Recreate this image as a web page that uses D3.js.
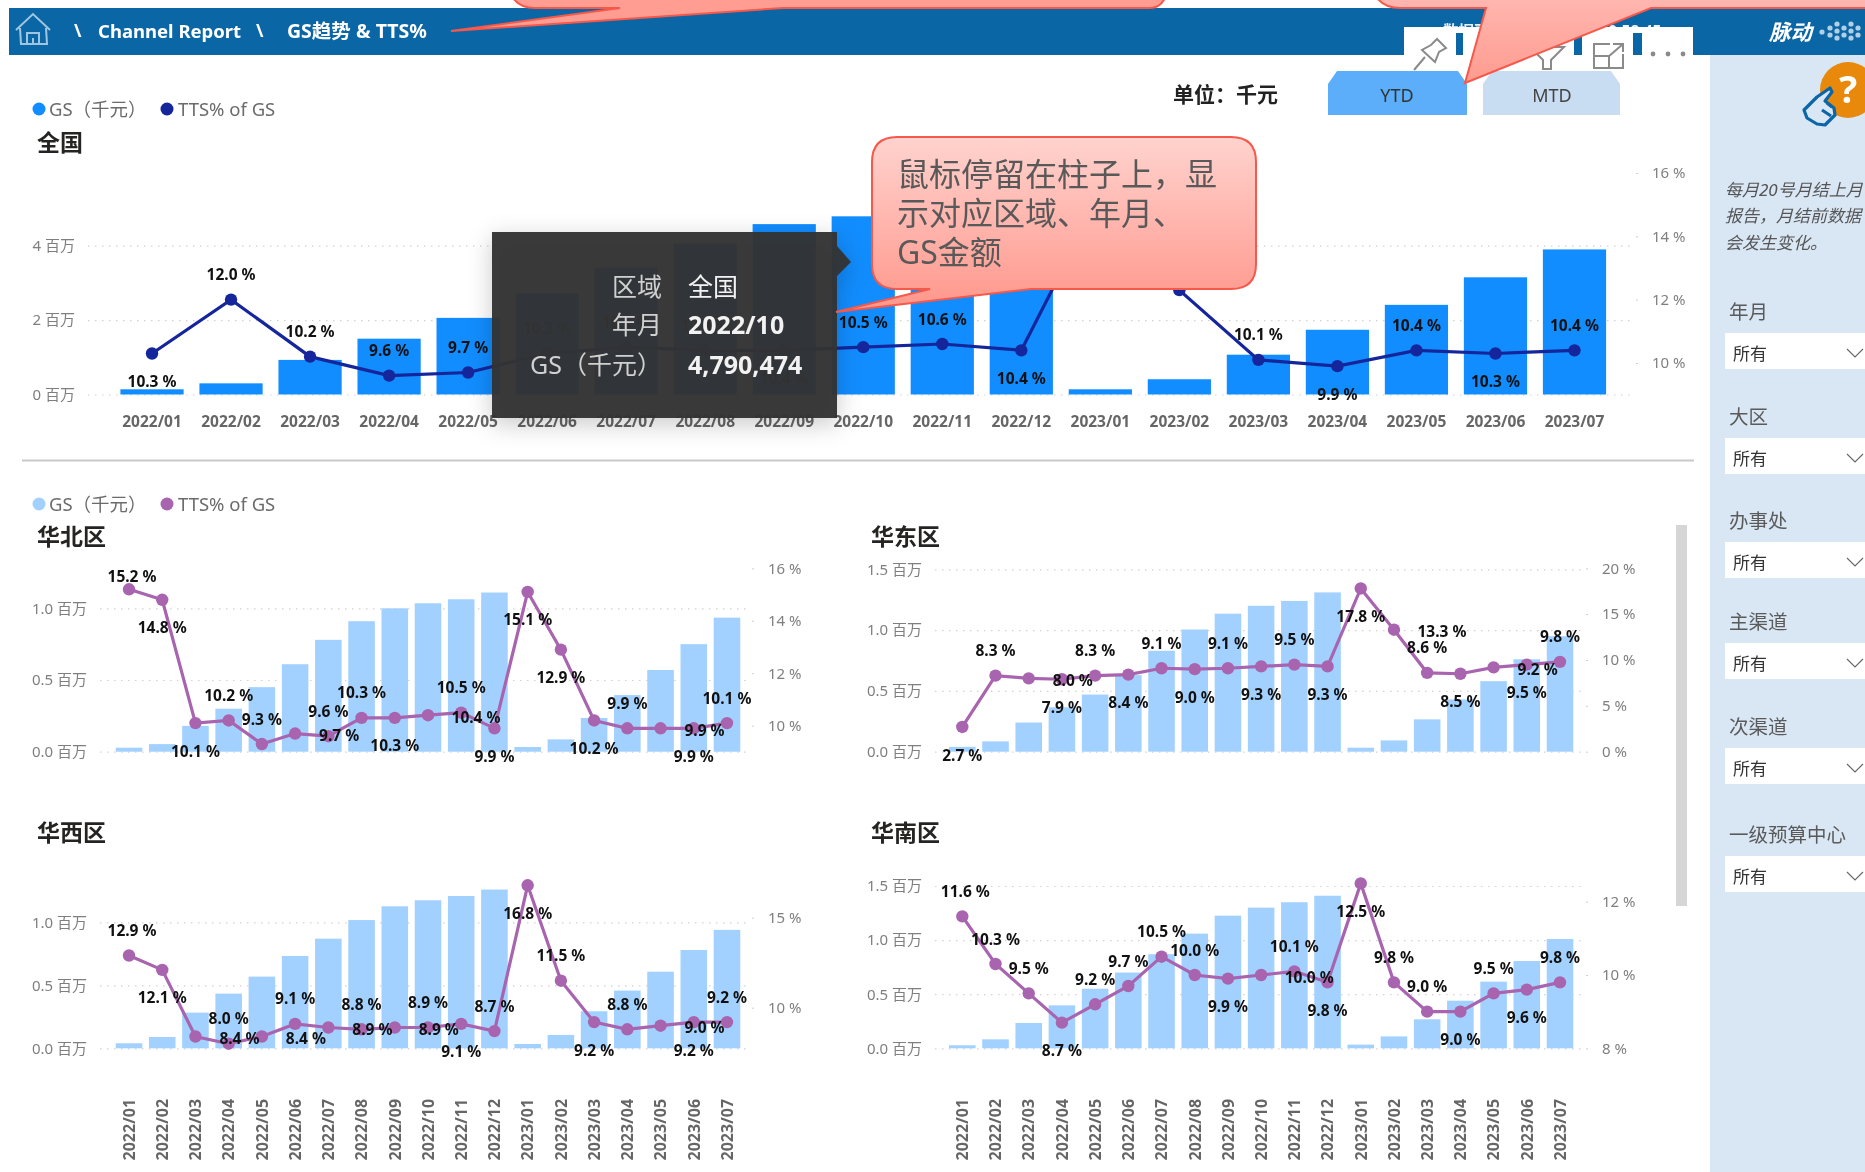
<!DOCTYPE html>
<html>
<head>
<meta charset="utf-8">
<title>GS趋势 & TTS%</title>
<script src="https://cdnjs.cloudflare.com/ajax/libs/d3/7.8.5/d3.min.js"></script>
<style>
    html, body { margin: 0; padding: 0; background: #fff; overflow: hidden; }
    svg { display: block; filter: blur(0.4px); }
    text { font-family: "Noto Sans", "Noto Sans CJK SC", sans-serif; }
    .domain { display: none; }
</style>
</head>
<body>
<svg id="chart" width="1865" height="1172"></svg>
<script>
// months shared by all five charts
const months = ["2022/01","2022/02","2022/03","2022/04","2022/05","2022/06","2022/07","2022/08","2022/09","2022/10","2022/11","2022/12","2023/01","2023/02","2023/03","2023/04","2023/05","2023/06","2023/07"];

// GS in millions. 2022/11 and 2022/12 are hidden by the callout in the source
const gsNational = [0.14,0.30,0.93,1.50,2.06,2.72,3.41,4.06,4.58,4.79,5.05,5.30,0.14,0.41,1.07,1.74,2.41,3.15,3.90];
const gsNorth = [0.028,0.053,0.18,0.30,0.45,0.61,0.78,0.91,1.00,1.035,1.063,1.11,0.033,0.086,0.235,0.395,0.57,0.75,0.935];
const gsEast = [0.04,0.085,0.24,0.365,0.47,0.63,0.83,1.005,1.135,1.20,1.24,1.31,0.033,0.093,0.266,0.43,0.58,0.76,0.95];
const gsWest = [0.04,0.09,0.283,0.434,0.569,0.733,0.87,1.018,1.127,1.175,1.209,1.26,0.034,0.106,0.294,0.458,0.608,0.78,0.94];
const gsSouth = [0.028,0.083,0.234,0.397,0.551,0.70,0.87,1.06,1.226,1.30,1.35,1.41,0.034,0.11,0.268,0.44,0.616,0.807,1.01];

// TTS% of GS, from the data labels
const ttsNational = [10.3,12.0,10.2,9.6,9.7,10.3,10.5,10.4,10.4,10.5,10.6,10.4,15.3,12.3,10.1,9.9,10.4,10.3,10.4];
const ttsNorth = [15.2,14.8,10.1,10.2,9.3,9.7,9.6,10.3,10.3,10.4,10.5,9.9,15.1,12.9,10.2,9.9,9.9,9.9,10.1];
const ttsEast = [2.7,8.3,8.0,7.9,8.3,8.4,9.1,9.0,9.1,9.3,9.5,9.3,17.8,13.3,8.6,8.5,9.2,9.5,9.8];
const ttsWest = [12.9,12.1,8.4,8.0,8.4,9.1,8.9,8.8,8.9,8.9,9.1,8.7,16.8,11.5,9.2,8.8,9.0,9.2,9.2];
const ttsSouth = [11.6,10.3,9.5,8.7,9.2,9.7,10.5,10.0,9.9,10.0,10.1,9.8,12.5,9.8,9.0,9.0,9.5,9.6,9.8];

// where each data label sits relative to its point: a = above, n = just above, b = below, s = to the side
const placeNational = "naaaaaaabaabaaababa".split("");
placeNational[0] = "b";
const placeNorth = "nbbaasaabsabbbbasba".split("");
const placeEast = "basbababababbsabsba".split("");
const placeWest = "absasasasabababasba".split("");
const placeSouth = "aaabaaaabsabbaababa".split("");

const filterNames = ["年月","大区","办事处","主渠道","次渠道","一级预算中心"];
const filterTops = [333,438,542,643,748,856];

const colors = {
    header: "#0b66a5", side: "#d9e6f4",
    bar: "#118dff", line: "#15259b",
    barLight: "#a3d1ff", lineLight: "#a864ae",
    axis: "#7f7f7f", label: "#111", title: "#252423"
};

const svg = d3.select("#chart");
const defs = svg.append("defs");

function gradient(id, top, bottom, y1, y2) {
    const g = defs.append("linearGradient").attr("id", id)
        .attr("gradientUnits", "userSpaceOnUse")
        .attr("x1", 0).attr("x2", 0).attr("y1", y1).attr("y2", y2);
    g.append("stop").attr("offset", "0%").attr("stop-color", top);
    g.append("stop").attr("offset", "100%").attr("stop-color", bottom);
}
gradient("callout", "#ffd3ce", "#ff9a8f", 137, 300);
gradient("callout-top", "#ffb6af", "#ff9b8f", 0, 83);

const shadow = defs.append("filter").attr("id", "tip-shadow")
    .attr("x", "-20%").attr("y", "-20%").attr("width", "140%").attr("height", "140%");
shadow.append("feDropShadow").attr("dx", 0).attr("dy", 6).attr("stdDeviation", 12)
    .attr("flood-color", "#000").attr("flood-opacity", 0.22);

function addText(parent, x, y, str, size, fill, weight, anchor) {
    return parent.append("text")
        .attr("x", x).attr("y", y)
        .attr("dy", "0.36em")
        .attr("font-size", size)
        .attr("font-weight", weight || "normal")
        .attr("fill", fill)
        .attr("text-anchor", anchor || "start")
        .text(str);
}

function drawLegend(g, y, barColor, lineColor) {
    g.append("circle").attr("cx", 39).attr("cy", y).attr("r", 6.5).attr("fill", barColor);
    addText(g, 49, y, "GS（千元）", 18.5, "#6b6b6b");
    g.append("circle").attr("cx", 167).attr("cy", y).attr("r", 6.5).attr("fill", lineColor);
    addText(g, 178, y, "TTS% of GS", 18.5, "#6b6b6b");
}

function drawChart(o) {
    const g = svg.append("g");
    addText(g, o.titleX, o.titleY, o.title, 23, o.titleColor || colors.title, "bold");

    const x = d3.scaleBand().domain(months).range(o.xRange).paddingInner(0.2).paddingOuter(0.1);
    const yLeft = d3.scaleLinear().domain(d3.extent(o.leftTicks)).range(o.leftRange);
    const yRight = d3.scaleLinear().domain(d3.extent(o.rightTicks)).range(o.rightRange);
    const cx = d => x(d) + x.bandwidth() / 2;

    // left axis doubles as the dotted gridlines
    const leftAxis = d3.axisLeft(yLeft)
        .tickValues(o.leftTicks)
        .tickSize(-(o.gridX[1] - o.gridX[0]))
        .tickPadding(13)
        .tickFormat(o.leftFormat);
    const la = g.append("g").attr("transform", `translate(${o.gridX[0]},0)`).call(leftAxis);
    la.selectAll("line").attr("stroke", "#d2d2d2").attr("stroke-width", 1.2).attr("stroke-dasharray", "1.5 5.5");
    la.selectAll("text").attr("font-size", 15).attr("fill", colors.axis);

    const rightAxis = d3.axisRight(yRight)
        .tickValues(o.rightTicks)
        .tickSize(2)
        .tickPadding(14)
        .tickFormat(d => `${d} %`);
    const ra = g.append("g").attr("transform", `translate(${o.gridX[1] + o.rightGap},0)`).call(rightAxis);
    ra.selectAll("line").attr("stroke", "#cfcfcf");
    ra.selectAll("text").attr("font-size", 15).attr("fill", colors.axis);

    g.append("g").selectAll("rect")
        .data(months)
        .join("rect")
        .attr("x", d => x(d))
        .attr("width", x.bandwidth())
        .attr("y", (d, i) => yLeft(o.gs[i]))
        .attr("height", (d, i) => yLeft(0) - yLeft(o.gs[i]))
        .attr("fill", o.barColor);

    const line = d3.line()
        .x(d => cx(d))
        .y((d, i) => yRight(o.tts[i]));
    g.append("path")
        .attr("d", line(months))
        .attr("fill", "none")
        .attr("stroke", o.lineColor)
        .attr("stroke-width", 3.2);
    g.append("g").selectAll("circle")
        .data(months)
        .join("circle")
        .attr("cx", d => cx(d))
        .attr("cy", (d, i) => yRight(o.tts[i]))
        .attr("r", 6.2)
        .attr("fill", o.lineColor);

    // data labels
    g.append("g").selectAll("text")
        .data(months)
        .join("text")
        .attr("x", (d, i) => {
            const side = o.place[i] === "s" ? (o.tts[i] >= 10 ? 48 : 44) : 0;
            return cx(d) + side + (i === 0 && o.place[i] !== "b" ? 3 : 0);
        })
        .attr("y", (d, i) => yRight(o.tts[i]) + ({ a: -25, n: -13, b: 28, s: 2 })[o.place[i]])
        .attr("dy", "0.36em")
        .attr("text-anchor", "middle")
        .attr("font-size", 15.5)
        .attr("font-weight", "bold")
        .attr("fill", colors.label)
        .text((d, i) => `${o.tts[i].toFixed(1)} %`);

    if (o.xLabels === "flat") {
        const ax = d3.axisBottom(x).tickSize(0).tickPadding(0);
        const xa = g.append("g").attr("transform", `translate(0,${yLeft(0) + 21})`).call(ax);
        xa.selectAll("text").attr("font-size", 15.5).attr("font-weight", "bold").attr("fill", "#666");
    } else if (o.xLabels === "rotated") {
        const ax = d3.axisBottom(x).tickSize(0).tickPadding(0);
        const xa = g.append("g").attr("transform", `translate(0,${yLeft(0) + 49})`).call(ax);
        xa.selectAll("text")
            .attr("font-size", 16)
            .attr("font-weight", "bold")
            .attr("fill", "#666")
            .attr("transform", "rotate(-90)")
            .attr("text-anchor", "end")
            .attr("x", -0)
            .attr("y", 0)
            .attr("dx", "-0.1em")
            .attr("dy", "0.36em");
    }
}

// ---------- page background ----------
svg.append("rect").attr("x", 1710).attr("y", 55).attr("width", 155).attr("height", 1117).attr("fill", colors.side);
svg.append("rect").attr("x", 9).attr("y", 8).attr("width", 1856).attr("height", 47).attr("fill", colors.header);

// ---------- charts ----------
drawLegend(svg, 109, colors.bar, colors.line);
drawChart({
    title: "全国", titleX: 37, titleY: 143,
    gs: gsNational, tts: ttsNational, place: placeNational,
    barColor: colors.bar, lineColor: colors.line,
    xRange: [112.5, 1614], gridX: [88, 1631], rightGap: 5,
    leftTicks: [0, 2, 4], leftRange: [394.5, 245.7], leftFormat: d => `${d} 百万`,
    rightTicks: [10, 12, 14, 16], rightRange: [363, 173],
    xLabels: "flat"
});

svg.append("line").attr("x1", 22).attr("x2", 1694).attr("y1", 460.5).attr("y2", 460.5)
    .attr("stroke", "#c9c9c9").attr("stroke-width", 2);
drawLegend(svg, 504, colors.barLight, colors.lineLight);

const lightFormat = d => `${d.toFixed(1)} 百万`;
const panelCommon = { barColor: colors.barLight, lineColor: colors.lineLight, leftFormat: lightFormat };
drawChart({
    ...panelCommon, title: "华北区", titleX: 37, titleY: 537,
    gs: gsNorth, tts: ttsNorth, place: placeNorth,
    xRange: [112.4, 743.6], gridX: [100, 746], rightGap: 6,
    leftTicks: [0, 0.5, 1], leftRange: [751.7, 608.3],
    rightTicks: [10, 12, 14, 16], rightRange: [725.7, 568.3]
});
drawChart({
    ...panelCommon, title: "华东区", titleX: 871, titleY: 537,
    gs: gsEast, tts: ttsEast, place: placeEast,
    xRange: [945.7, 1576.6], gridX: [935, 1586], rightGap: 0,
    leftTicks: [0, 0.5, 1, 1.5], leftRange: [751.7, 569.3],
    rightTicks: [0, 5, 10, 15, 20], rightRange: [751.7, 568.3]
});
drawChart({
    ...panelCommon, title: "华西区", titleX: 37, titleY: 833,
    gs: gsWest, tts: ttsWest, place: placeWest,
    xRange: [112.4, 743.6], gridX: [100, 746], rightGap: 6,
    leftTicks: [0, 0.5, 1], leftRange: [1048.3, 922.3],
    rightTicks: [10, 15], rightRange: [1007.7, 917.7],
    xLabels: "rotated"
});
drawChart({
    ...panelCommon, title: "华南区", titleX: 871, titleY: 833,
    gs: gsSouth, tts: ttsSouth, place: placeSouth,
    xRange: [945.7, 1576.6], gridX: [935, 1586], rightGap: 0,
    leftTicks: [0, 0.5, 1, 1.5], leftRange: [1048.3, 886],
    rightTicks: [8, 10, 12], rightRange: [1048.3, 901.7],
    xLabels: "rotated"
});

// scrollbar
svg.append("rect").attr("x", 1676).attr("y", 525).attr("width", 11).attr("height", 381).attr("fill", "#d6d6d6");

// ---------- header ----------
const header = svg.append("g");
const home = header.append("g").attr("fill", "none").attr("stroke", "#9fc6e0").attr("stroke-width", 2);
home.append("path").attr("d", "M16,30 L33,14 L50,30 M20,28 L21,44 L47,44 L46,28");
home.append("path").attr("d", "M27,44 V33 H39 V44 M33,44 V38");
addText(header, 74, 31, "\\", 18, "#fff", "bold");
addText(header, 98, 31, "Channel Report", 18.5, "#fff", "bold");
addText(header, 256, 31, "\\", 18, "#fff", "bold");
addText(header, 287, 31, "GS趋势 & TTS%", 19.5, "#fff", "bold");
addText(header, 1443, 31, "数据更新：2023/7/18 10:58:45", 15.5, "#eaf3fa", "bold");
addText(header, 1769, 32, "脉动", 21.5, "#fff", "bold").attr("font-style", "italic");
const logoDots = [[1822,32],[1830,28],[1830,35],[1837,24],[1837,31],[1837,38],[1844,28],[1844,35],[1851,24],[1851,31],[1851,38],[1858,28],[1858,35]];
header.append("g").selectAll("circle").data(logoDots).join("circle")
    .attr("cx", d => d[0]).attr("cy", d => d[1]).attr("r", 2.6).attr("fill", "#cfe2f0").attr("opacity", 0.85);

// pinned-visual toolbar laid over the header
const toolbar = svg.append("g");
toolbar.append("rect").attr("x", 1404).attr("y", 27).attr("width", 289).attr("height", 28).attr("fill", "#fff");
[[1456,7],[1574,8],[1633,9]].forEach(d => {
    toolbar.append("rect").attr("x", d[0]).attr("y", 33).attr("width", d[1]).attr("height", 22).attr("fill", colors.header);
});
const tools = toolbar.append("g").attr("fill", "none").attr("stroke", "#8a8a8a").attr("stroke-width", 2);
tools.append("path").attr("d", "M1437,39 L1446,48 L1439,52 L1435,62 L1422,50 L1431,45 Z M1425,57 L1414,70");
tools.append("path").attr("d", "M1530,47 H1564 L1551,60 V69 H1543 V60 Z");
tools.append("path").attr("d", "M1610,44 H1594 V68 H1623 V54 M1594,56 H1609 V68 M1608,57 L1623,44 M1613,44 H1623 V52");
toolbar.selectAll("circle.dot").data([1653,1668,1683]).join("circle").attr("class", "dot")
    .attr("cx", d => d).attr("cy", 54).attr("r", 2.4).attr("fill", "#8a8a8a");

// ---------- YTD / MTD ----------
function tabPath(x0, x1) {
    return `M${x0},115 V84 L${x0 + 9},71 H${x1 - 9} L${x1},84 V115 Z`;
}
svg.append("path").attr("d", tabPath(1328, 1467)).attr("fill", "#5cadfa");
svg.append("path").attr("d", tabPath(1483, 1620)).attr("fill", "#c8dcf2");
addText(svg, 1397, 96, "YTD", 18, "#333", "normal", "middle");
addText(svg, 1552, 96, "MTD", 18, "#444", "normal", "middle");
addText(svg, 1173, 94, "单位：千元", 21, "#222", "bold");

// ---------- side panel ----------
const side = svg.append("g");
side.append("circle").attr("cx", 1848).attr("cy", 90).attr("r", 28).attr("fill", "#e8890c");
addText(side, 1848, 89, "?", 38, "#fff", "bold", "middle");
const hand = side.append("g").attr("fill", colors.side).attr("stroke", colors.header).attr("stroke-width", 3.2).attr("stroke-linejoin", "round");
hand.append("path").attr("d", "M1804,110 L1817,97 L1830,88 L1832,92 L1825,101 L1834,108 L1835,115 L1825,125 L1817,124 L1807,118 Z");
hand.append("path").attr("d", "M1827,103 L1832,107 M1822,110 L1831,116").attr("fill", "none");

[["每月20号月结上月", 190], ["报告，月结前数据", 216], ["会发生变化。", 243]].forEach(d => {
    addText(side, 1725, d[1], d[0], 17, "#555").attr("font-style", "italic");
});
filterNames.forEach((name, i) => {
    const top = filterTops[i];
    addText(side, 1729, top - 21, name, 19.5, "#5a5a5a");
    side.append("rect").attr("x", 1725).attr("y", top).attr("width", 140).attr("height", 36).attr("fill", "#fff");
    addText(side, 1733, top + 21, "所有", 17, "#333");
    side.append("path").attr("d", `M1847,${top + 16} L1855,${top + 24} L1863,${top + 16}`)
        .attr("fill", "none").attr("stroke", "#666").attr("stroke-width", 1.1);
});

// ---------- hover tooltip ----------
const tip = svg.append("g");
tip.append("path")
    .attr("d", "M492,232 H837 V246 L851,262 L837,276 V418 H492 Z")
    .attr("fill", "rgba(50,50,50,0.96)")
    .attr("filter", "url(#tip-shadow)");
[["区域", "全国", 287], ["年月", "2022/10", 325], ["GS（千元）", "4,790,474", 365]].forEach(d => {
    addText(tip, 662, d[2], d[0], 25, "#d0d0d0", "normal", "end");
    addText(tip, 688, d[2], d[1], 25, "#f2f2f2", d[1] === "全国" ? "normal" : "bold");
});

// ---------- red callouts ----------
const callouts = svg.append("g").attr("stroke", "#f6584a").attr("stroke-width", 2).attr("stroke-linejoin", "miter");
callouts.append("path")
    .attr("d", "M513,-2 Q520,8 535,8 H620 L451,31 L783,8 H1150 Q1160,8 1165,-2 Z")
    .attr("fill", "#ff9d92");
callouts.append("path")
    .attr("d", "M1377,-2 Q1385,8 1400,8 H1486 L1465,83 L1651,8 H1870 V-2 Z")
    .attr("fill", "url(#callout-top)");
callouts.append("path")
    .attr("d", "M897,137 H1231 Q1256,137 1256,162 V264 Q1256,289 1231,289 H1031 L836,312 L930,289 H897 Q872,289 872,264 V162 Q872,137 897,137 Z")
    .attr("fill", "url(#callout)");
[["鼠标停留在柱子上，显", 174], ["示对应区域、年月、", 213], ["GS金额", 252]].forEach(d => {
    addText(svg, 897, d[1], d[0], 32, "#595959");
});
</script>
</body>
</html>
